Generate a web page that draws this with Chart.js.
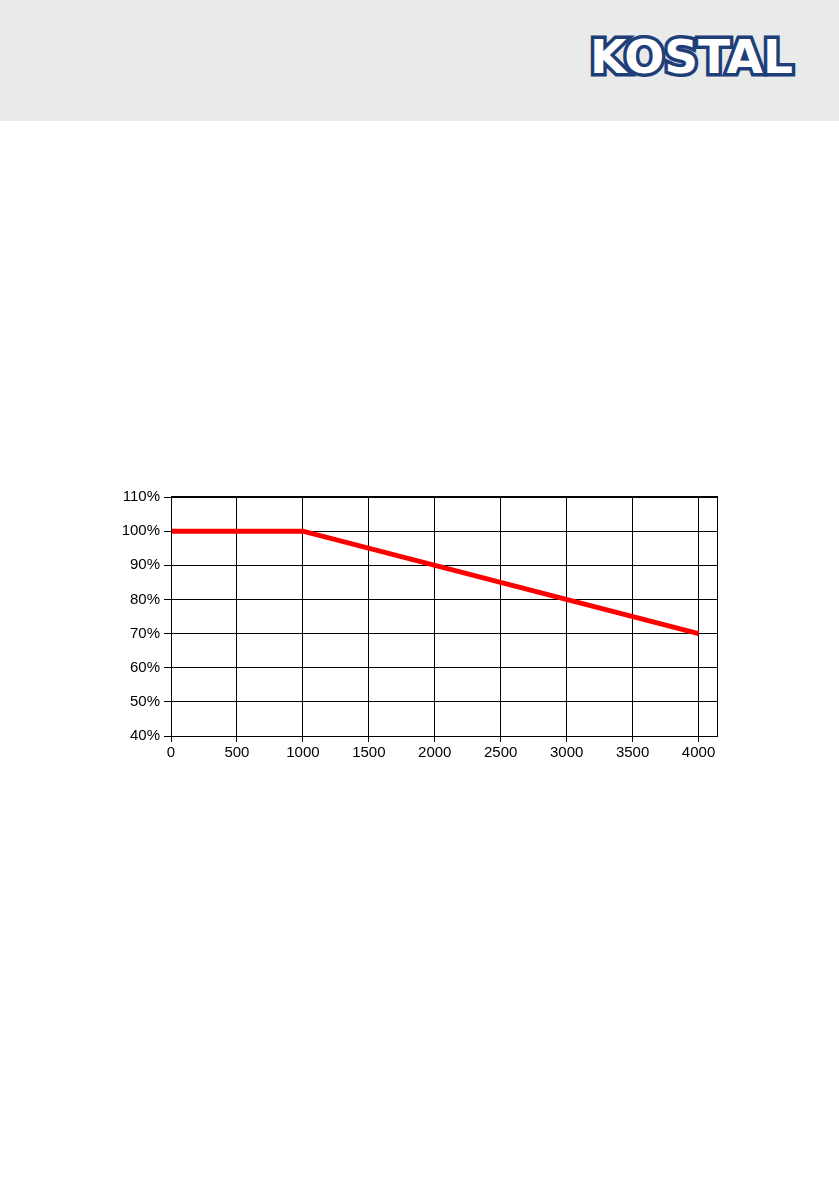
<!DOCTYPE html>
<html lang="de">
<head>
<meta charset="UTF-8">
<title>Leistungsreduzierung</title>
<script src="https://cdn.jsdelivr.net/npm/chart.js"></script>
<style>
    body {
        margin: 0;
        background: #fff;
        width: 839px;
        height: 1191px;
        position: relative;
        overflow: hidden;
    }
    .header {
        position: absolute;
        left: 0; top: 0;
        width: 839px; height: 121px;
        background: #e9ebea;
    }
    .logo {
        position: absolute;
        left: 590px; top: 29px;
        font-family: "DejaVu Sans", sans-serif;
        font-weight: bold;
        font-size: 47px;
        letter-spacing: 0px;
        color: #fff;
        -webkit-text-stroke: 7px #1f3e78;
        paint-order: stroke fill;
    }
    .chart-box {
        position: absolute;
        left: 100px; top: 470px;
        width: 640px; height: 310px;
    }
</style>
</head>
<body>
<div class="header"><div class="logo">KOSTAL</div></div>
<div class="chart-box"><canvas id="derating"></canvas></div>

<script>
// data
const xValues = [0, 1000, 4000];
const yValues = [100, 100, 70];
const yTicks = [40, 50, 60, 70, 80, 90, 100, 110];
const xTicks = [0, 500, 1000, 1500, 2000, 2500, 3000, 3500, 4000];

const points = xValues.map((x, i) => ({ x: x, y: yValues[i] }));

// frame around the plot area (thick top edge like the original)
const frame = {
    id: 'frame',
    afterDraw(chart) {
        const a = chart.chartArea;
        const ctx = chart.ctx;
        ctx.save();
        ctx.strokeStyle = '#000';
        ctx.lineWidth = 1;
        ctx.strokeRect(a.left + 0.5, a.top + 0.5, a.right - a.left, a.bottom - a.top);
        ctx.lineWidth = 2;
        ctx.beginPath();
        ctx.moveTo(a.left, a.top);
        ctx.lineTo(a.right + 1, a.top);
        ctx.stroke();
        ctx.restore();
    }
};

const tickFont = { family: '"Liberation Sans", Arial, sans-serif', size: 15 };

new Chart(document.getElementById('derating'), {
    type: 'line',
    data: {
        datasets: [{
            data: points,
            borderColor: '#ff0000',
            borderWidth: 5,
            pointRadius: 0,
            tension: 0
        }]
    },
    options: {
        responsive: true,
        maintainAspectRatio: false,
        animation: false,
        layout: { padding: { top: 27, right: 23, left: 0, bottom: 0 } },
        plugins: { legend: { display: false }, tooltip: { enabled: false } },
        scales: {
            x: {
                type: 'linear',
                min: 0,
                max: 4140,
                afterFit(s) { s.height = 44; },
                afterBuildTicks(s) { s.ticks = xTicks.map(v => ({ value: v })); },
                ticks: { color: '#000', font: tickFont, padding: 2, maxRotation: 0, callback: v => String(v) },
                grid: { color: '#000', lineWidth: 1, tickLength: 6, drawOnChartArea: true },
                border: { display: false }
            },
            y: {
                min: 40,
                max: 110,
                afterFit(s) { s.width = 71; },
                afterBuildTicks(s) { s.ticks = yTicks.map(v => ({ value: v })); },
                ticks: { color: '#000', font: tickFont, padding: 4, callback: v => v + '%' },
                grid: { color: '#000', lineWidth: 1, tickLength: 7 },
                border: { display: false }
            }
        }
    },
    plugins: [frame]
});
</script>
</body>
</html>
